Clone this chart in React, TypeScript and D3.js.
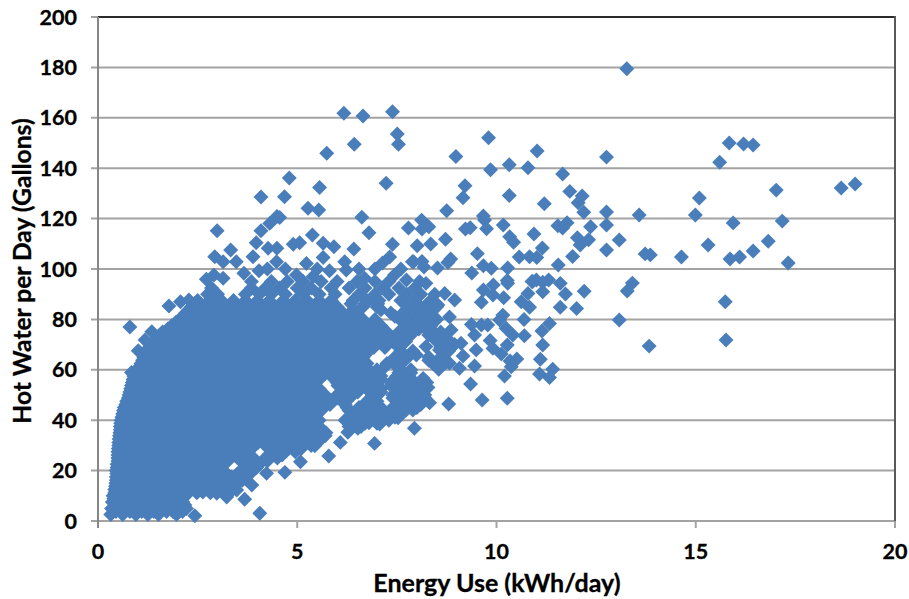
// App.tsx - hot water use vs energy use scatter
import React, { useEffect, useRef } from 'react';
import * as d3 from 'd3';

const xTicks = [0, 5, 10, 15, 20];
const yTicks = [0, 20, 40, 60, 80, 100, 120, 140, 160, 180, 200];

// Points that can be told apart, [kWh/day, gallons]
const upperPoints: number[][] = [
  [13.27, 179.5], [6.17, 161.8], [6.65, 160.7], [7.39, 162.4], [7.51, 153.6], [7.54, 149.5], [6.43, 149.5], [5.74, 145.9],
  [9.8, 152.1], [8.98, 144.6], [11.02, 146.8], [10.32, 141.4], [9.85, 139.4], [10.79, 140.2], [11.66, 137.7], [4.8, 136.1],
  [5.56, 132.3], [7.23, 134], [4.68, 128.7], [4.09, 128.6], [9.21, 133], [9.16, 128.3], [10.32, 129.2], [11.84, 130.8], [12.15, 129],
  [12.05, 126.3], [12.19, 122.5], [11.2, 125.9], [5.27, 124.1], [5.54, 123.4], [4.56, 120.4], [6.62, 120.5], [8.75, 123.1],
  [9.67, 121], [9.7, 119.4], [6.8, 114.4], [7.79, 116.3], [8.12, 119.4], [8.13, 115.9], [8.3, 116.8], [9.22, 115.9], [9.34, 116.4],
  [9.75, 116], [10.17, 117.5], [11.54, 117.2], [11.66, 116.3], [11.77, 118.4], [12.36, 116.8], [10.94, 113.9], [10.33, 112.8],
  [10.43, 110.6], [12.03, 112.4], [12.31, 111.6], [12.1, 109.5], [8.72, 111.8], [7.39, 109.8], [8.01, 109.2], [8.35, 109.9],
  [11.15, 108.3], [9.52, 106.1], [11.91, 105], [10.57, 104.8], [10.83, 104.9], [11.01, 104.6], [7.92, 102.9], [8.13, 103],
  [8.18, 100.8], [8.52, 100.4], [8.78, 102.6], [8.85, 104], [9.67, 101.3], [9.87, 100.3], [10.28, 100.4], [11.55, 101.6],
  [9.38, 98.4], [9.92, 93.7], [10.27, 95.4], [10.89, 95], [11, 95.6], [11.16, 94.7], [11.31, 95.6], [11.6, 94.3], [12.2, 91.2],
  [2.99, 115.2], [4.09, 115.2], [4.31, 118.1], [4.49, 120.8], [2.93, 104.9], [3.33, 107.5], [3.97, 110.4], [4.27, 108.2],
  [4.49, 108.2], [4.9, 109.8], [5.06, 110.4], [5.38, 113.5], [5.65, 110.2], [5.92, 108.8], [6.42, 107.9], [5.65, 104.6],
  [5.23, 102.2], [3.14, 102.9], [3.47, 102.9], [3.89, 104.9], [4.48, 102.9], [6.19, 102.9], [5.81, 99.3], [6.23, 99.6],
  [4.98, 97.6], [5.4, 97], [4.04, 99.3], [3.66, 98.3], [2.72, 95.9], [2.91, 97.6], [3.14, 96.3], [1.78, 85.3], [2.07, 87],
  [2.28, 87.7], [6.69, 96.3], [7.14, 102.4], [7.32, 104.8], [7.89, 102.9], [7.44, 97.6], [7.74, 95.6], [8.07, 95], [8.23, 94.3],
];

const farRightPoints: number[][] = [
  [15.6, 142.4], [15.84, 150], [16.2, 149.6], [16.44, 149.2], [17.02, 131.3], [17.17, 119], [17.32, 102.4], [16.82, 111],
  [16.44, 107.1], [16.1, 104.8], [15.86, 104], [15.94, 118.3], [15.09, 128.2], [14.99, 121.4], [15.31, 109.5], [14.64, 104.8],
  [15.74, 87], [15.76, 71.8], [13.83, 69.4], [13.08, 79.8], [13.28, 91.3], [13.41, 94.4], [13.08, 111.5], [12.76, 107.5],
  [12.76, 117.5], [12.76, 122.6], [13.58, 121.4], [13.73, 106], [13.86, 105.6], [18.65, 132.1], [19, 133.7], [12.76, 144.4],
];

const rightEdgePoints: number[][] = [
  [11.6, 84.8], [12.01, 84.3], [11.73, 90.1], [11.33, 78.4], [11.14, 75.4], [11.16, 69.8], [11.1, 64.2], [11.41, 60.2],
  [11.08, 58.3], [11.33, 56.9], [10.7, 73.5], [10.69, 80], [10.83, 84.8], [10.62, 87], [10.79, 90.3], [10.91, 95], [11.16, 91],
  [9.62, 86.8], [9.67, 91.7], [9.91, 89.7], [10.18, 88.6], [10.28, 94.3], [10.16, 81.7], [10.08, 79.8], [9.78, 77.8],
  [9.62, 77.8], [9.37, 78], [9.45, 73.8], [10.24, 76.5], [10.41, 73.8], [9.84, 71.6], [9.91, 68.5], [9.49, 67.9], [9.11, 70.5],
  [10.27, 69.8], [10.12, 66.3], [10.51, 64.3], [10.34, 63.5], [10.37, 61.2], [10.2, 57.5], [10.27, 48.7], [9.64, 48], [9.35, 54.4],
  [8.8, 46.4], [9.45, 61.5], [9.16, 65.5], [9.07, 60.6], [8.82, 62.6], [8.55, 60.2], [8.16, 56.6], [8.28, 53], [8.32, 46.9],
  [7.94, 36.8], [7.9, 44], [7.53, 41], [7.07, 38.5], [6.8, 39], [6.94, 30.8], [6.52, 36.8], [6.27, 35.2], [6.08, 31.2], [5.79, 25.8],
  [5.08, 23.5], [4.69, 19.3], [5.44, 29.9], [8.82, 81], [8.86, 75.8], [8.57, 67.9], [8.95, 87.7], [8.7, 90.3], [8.53, 85.7],
  [8.23, 69.2], [7.99, 65.9], [4.06, 3.1], [3.68, 8.6], [2.43, 2.1], [4.23, 18.9], [0.8, 77], [1.01, 67.6], [0.84, 58.9],
  [1.35, 75.1], [1.18, 71.8], [3.86, 14.3], [2.63, 11.5], [2.98, 11], [3.23, 9.5], [3.48, 12.3],
];

// Solid part of the cloud, read as rows: [gallons, kWh values along that row]
const cloudLow: [number, number[]][] = [
  [2.6, [0.32, 0.62, 0.95, 1.25, 1.52, 1.97]],
  [3.8, [0.45, 0.8, 1.1, 1.4, 1.72, 1.88, 2.12]],
  [5, [0.34, 0.5, 0.8, 1.1, 1.4, 1.7, 2.0, 2.22]],
  [6.3, [0.42, 0.7, 1.0, 1.3, 1.6, 1.9, 2.18]],
  [7.5, [0.36, 0.65, 0.95, 1.25, 1.55, 1.85, 2.13]],
  [8.8, [0.4, 0.66, 0.98, 1.28, 1.58, 1.88, 2.1]],
  [10, [0.38, 0.5, 0.8, 1.1, 1.4, 1.7, 2.0, 2.2]],
  [11.2, [0.42, 0.68, 0.98, 1.28, 1.58, 1.88, 2.18, 2.48, 2.82, 3.3]],
  [12.5, [0.42, 0.66, 0.95, 1.25, 1.55, 1.85, 2.15, 2.45, 2.75, 3.05, 3.35]],
  [13.8, [0.44, 0.72, 1.02, 1.32, 1.62, 1.92, 2.22, 2.52, 2.82, 3.12, 3.42]],
  [15, [0.45, 0.55, 0.8, 1.1, 1.4, 1.7, 2.0, 2.3, 2.6, 2.9, 3.2, 3.5]],
  [16.2, [0.46, 0.68, 0.96, 1.26, 1.56, 1.86, 2.16, 2.46, 2.76, 3.06, 3.36, 3.62]],
  [17.5, [0.46, 0.7, 0.95, 1.25, 1.55, 1.85, 2.15, 2.45, 2.75, 3.05, 3.35, 3.7]],
  [18.8, [0.47, 0.62, 0.88, 1.12, 1.42, 1.72, 2.02, 2.32, 2.62, 2.92, 3.22, 3.5, 3.82]],
  [20, [0.46, 0.6, 0.85, 1.1, 1.4, 1.7, 2.0, 2.3, 2.6, 2.9, 3.15, 3.6, 3.85]],
  [21.2, [0.48, 0.72, 1.0, 1.3, 1.58, 1.88, 2.18, 2.48, 2.78, 3.08, 3.72, 3.98]],
  [22.5, [0.48, 0.75, 1.0, 1.3, 1.6, 1.9, 2.2, 2.5, 2.8, 3.1, 3.75, 4.05]],
  [23.8, [0.5, 0.62, 0.88, 1.16, 1.46, 1.76, 2.06, 2.36, 2.66, 2.96, 3.26, 3.58, 3.92, 4.25]],
  [25, [0.5, 0.6, 0.9, 1.15, 1.45, 1.75, 2.05, 2.35, 2.65, 2.95, 3.25, 3.55, 3.9, 4.2, 4.5]],
  [26.2, [0.5, 0.74, 1.02, 1.32, 1.62, 1.92, 2.22, 2.52, 2.82, 3.12, 3.42, 3.72, 4.38, 4.62]],
  [27.5, [0.5, 0.75, 1.0, 1.3, 1.6, 1.9, 2.2, 2.5, 2.8, 3.1, 3.4, 3.72, 4.4, 4.7, 4.95]],
  [28.8, [0.51, 0.64, 0.9, 1.16, 1.46, 1.76, 2.06, 2.36, 2.66, 2.96, 3.26, 3.56, 3.86, 4.45, 4.78, 5.1]],
  [30, [0.52, 0.62, 0.9, 1.15, 1.45, 1.75, 2.05, 2.35, 2.65, 2.95, 3.25, 3.55, 3.85, 4.2, 4.5, 4.8, 5.1, 5.35]],
  [31.2, [0.52, 0.76, 1.02, 1.32, 1.62, 1.92, 2.22, 2.52, 2.82, 3.12, 3.42, 3.72, 4.02, 4.32, 4.66, 4.96, 5.26, 5.5]],
  [32.5, [0.53, 0.78, 1.0, 1.3, 1.6, 1.9, 2.2, 2.5, 2.8, 3.1, 3.4, 3.7, 4.0, 4.3, 4.65, 4.95, 5.25, 5.6]],
  [33.8, [0.54, 0.66, 0.9, 1.16, 1.46, 1.76, 2.06, 2.36, 2.66, 2.96, 3.26, 3.56, 3.86, 4.16, 4.48, 4.8, 5.1, 5.42, 5.7]],
  [35, [0.55, 0.65, 0.9, 1.15, 1.45, 1.75, 2.05, 2.35, 2.65, 2.95, 3.25, 3.55, 3.85, 4.15, 4.5, 4.8, 5.1, 5.4, 5.72]],
  [36.2, [0.56, 0.8, 1.02, 1.32, 1.62, 1.92, 2.22, 2.52, 2.82, 3.12, 3.42, 3.72, 4.02, 4.32, 4.66, 4.96, 5.26, 5.56]],
];

const cloudMid: [number, number[]][] = [
  [37.5, [0.56, 0.8, 1.0, 1.3, 1.6, 1.9, 2.2, 2.5, 2.8, 3.1, 3.4, 3.7, 4.0, 4.3, 4.65, 4.95, 5.25, 5.55, 6.3, 6.6]],
  [38.8, [0.57, 0.7, 0.92, 1.16, 1.46, 1.76, 2.06, 2.36, 2.66, 2.96, 3.26, 3.56, 3.86, 4.16, 4.48, 4.8, 5.1, 5.4, 6.4, 6.7, 7.0]],
  [40, [0.58, 0.7, 0.9, 1.15, 1.45, 1.75, 2.05, 2.35, 2.65, 2.95, 3.25, 3.55, 3.85, 4.15, 4.5, 4.8, 5.1, 5.55, 6.2, 6.45, 6.75, 7.05, 7.3]],
  [41.2, [0.6, 0.82, 1.04, 1.32, 1.62, 1.92, 2.22, 2.52, 2.82, 3.12, 3.42, 3.72, 4.02, 4.32, 4.66, 4.96, 5.26, 6.3, 6.6, 6.9, 7.2, 7.45]],
  [42.5, [0.62, 0.85, 1.05, 1.3, 1.6, 1.9, 2.2, 2.5, 2.8, 3.1, 3.4, 3.7, 4.0, 4.3, 4.65, 4.95, 5.25, 5.5, 6.45, 6.7, 7.0, 7.25, 7.55]],
  [43.8, [0.64, 0.76, 0.96, 1.18, 1.46, 1.76, 2.06, 2.36, 2.66, 2.96, 3.26, 3.56, 3.86, 4.16, 4.48, 4.8, 5.1, 5.4, 5.6, 6.3, 6.58, 6.88, 7.15, 7.4, 7.72]],
  [45, [0.66, 0.75, 0.95, 1.2, 1.45, 1.75, 2.05, 2.35, 2.65, 2.95, 3.25, 3.55, 3.85, 4.15, 4.5, 4.8, 5.1, 5.4, 5.65, 6.25, 6.55, 6.85, 7.1, 7.4, 7.7, 8.0]],
  [46.2, [0.7, 0.88, 1.08, 1.32, 1.62, 1.92, 2.22, 2.52, 2.82, 3.12, 3.42, 3.72, 4.02, 4.32, 4.66, 4.96, 5.26, 5.56, 5.82, 6.2, 6.7, 7.0, 7.55, 7.85, 8.1]],
  [47.5, [0.72, 0.9, 1.1, 1.3, 1.6, 1.9, 2.2, 2.5, 2.8, 3.1, 3.4, 3.7, 4.0, 4.3, 4.65, 4.95, 5.25, 5.55, 5.85, 6.2, 6.75, 7.0, 7.55, 7.85, 8.1]],
  [48.8, [0.76, 0.84, 1.02, 1.2, 1.46, 1.76, 2.06, 2.36, 2.66, 2.96, 3.26, 3.56, 3.86, 4.16, 4.48, 4.8, 5.1, 5.4, 5.7, 6.0, 6.32, 6.85, 7.4, 7.7, 7.98, 8.2]],
  [50, [0.78, 0.85, 1.05, 1.2, 1.45, 1.75, 2.05, 2.35, 2.65, 2.95, 3.25, 3.55, 3.85, 4.15, 4.5, 4.8, 5.1, 5.4, 5.7, 6.0, 6.35, 6.9, 7.4, 7.7, 8.0, 8.2]],
  [51.2, [0.8, 0.98, 1.14, 1.34, 1.62, 1.92, 2.22, 2.52, 2.82, 3.12, 3.42, 3.72, 4.02, 4.32, 4.66, 4.96, 5.26, 5.56, 6.18, 6.52, 6.82, 7.1, 7.55, 7.85, 8.15]],
  [52.5, [0.82, 1.0, 1.15, 1.35, 1.6, 1.9, 2.2, 2.5, 2.8, 3.1, 3.4, 3.7, 4.0, 4.3, 4.65, 4.95, 5.25, 5.55, 6.2, 6.5, 6.8, 7.1, 7.55, 7.85, 8.15]],
  [53.8, [0.84, 0.94, 1.1, 1.28, 1.46, 1.76, 2.06, 2.36, 2.66, 2.96, 3.26, 3.56, 3.86, 4.16, 4.48, 4.8, 5.1, 5.4, 6.02, 6.32, 6.66, 6.96, 7.35, 7.65, 7.95]],
  [55, [0.86, 0.95, 1.1, 1.3, 1.45, 1.75, 2.05, 2.35, 2.65, 2.95, 3.25, 3.55, 3.85, 4.15, 4.5, 4.8, 5.1, 5.4, 6.0, 6.3, 6.65, 6.95, 7.35, 7.65, 7.95, 8.25]],
  [56.2, [0.88, 1.04, 1.2, 1.4, 1.62, 1.92, 2.22, 2.52, 2.82, 3.12, 3.42, 3.72, 4.02, 4.32, 4.66, 4.96, 5.26, 5.56, 6.12, 6.48, 6.8, 7.1, 7.5, 7.8]],
  [57.5, [0.9, 1.05, 1.2, 1.4, 1.6, 1.9, 2.2, 2.5, 2.8, 3.1, 3.4, 3.7, 4.0, 4.3, 4.65, 4.95, 5.25, 5.55, 5.85, 6.15, 6.5, 6.8, 7.1, 7.5, 7.8]],
  [58.8, [0.95, 1.08, 1.26, 1.46, 1.76, 2.06, 2.36, 2.66, 2.96, 3.26, 3.56, 3.86, 4.16, 4.48, 4.8, 5.1, 5.4, 5.7, 6.0, 6.32, 6.62, 6.95, 7.55, 7.85]],
  [60, [1.0, 1.1, 1.3, 1.5, 1.75, 2.05, 2.35, 2.65, 2.95, 3.25, 3.55, 3.85, 4.15, 4.5, 4.8, 5.1, 5.4, 5.7, 6.0, 6.35, 6.6, 7.0, 7.6, 7.85]],
];

const cloudHigh: [number, number[]][] = [
  [61.2, [1.04, 1.2, 1.4, 1.6, 1.92, 2.22, 2.52, 2.82, 3.12, 3.42, 3.72, 4.02, 4.32, 4.66, 4.96, 5.26, 5.56, 5.86, 6.16, 6.48, 6.72, 7.2, 7.5]],
  [62.5, [1.08, 1.25, 1.45, 1.6, 1.9, 2.2, 2.5, 2.8, 3.1, 3.4, 3.7, 4.0, 4.3, 4.65, 4.95, 5.25, 5.55, 5.85, 6.15, 6.5, 6.75, 7.25, 7.5, 8.4, 8.7]],
  [63.8, [1.12, 1.3, 1.5, 1.76, 2.06, 2.36, 2.66, 2.96, 3.26, 3.56, 3.86, 4.16, 4.48, 4.8, 5.1, 5.4, 5.7, 6.0, 6.32, 6.62, 7.4, 7.7, 8.3, 8.55]],
  [65, [1.15, 1.35, 1.55, 1.75, 2.05, 2.35, 2.65, 2.95, 3.25, 3.55, 3.85, 4.15, 4.5, 4.8, 5.1, 5.4, 5.7, 6.0, 6.35, 6.65, 7.45, 7.75, 8.3, 8.6]],
  [66.2, [1.2, 1.42, 1.62, 1.92, 2.22, 2.52, 2.82, 3.12, 3.42, 3.72, 4.02, 4.32, 4.66, 4.96, 5.26, 5.56, 5.86, 6.16, 6.48, 6.72, 7.55, 7.85, 8.7]],
  [67.5, [1.25, 1.45, 1.65, 1.9, 2.2, 2.5, 2.8, 3.1, 3.4, 3.7, 4.0, 4.3, 4.65, 4.95, 5.25, 5.55, 5.85, 6.15, 6.5, 6.75, 7.6, 7.9, 8.8]],
  [68.8, [1.28, 1.5, 1.72, 2.06, 2.36, 2.66, 2.96, 3.26, 3.56, 3.86, 4.16, 4.48, 4.8, 5.1, 5.4, 5.7, 6.0, 6.32, 6.62, 6.92, 7.2, 7.55, 8.6, 8.85]],
  [70, [1.32, 1.55, 1.75, 2.05, 2.35, 2.65, 2.95, 3.25, 3.55, 3.85, 4.15, 4.5, 4.8, 5.1, 5.4, 5.7, 6.0, 6.35, 6.65, 6.95, 7.25, 7.55, 8.6, 8.95]],
  [71.2, [1.42, 1.64, 1.88, 2.22, 2.52, 2.82, 3.12, 3.42, 3.72, 4.02, 4.32, 4.66, 4.96, 5.26, 5.56, 5.86, 6.16, 6.48, 6.8, 7.1, 7.4, 7.72, 8.5, 8.8]],
  [72.5, [1.5, 1.7, 1.9, 2.2, 2.5, 2.8, 3.1, 3.4, 3.7, 4.0, 4.3, 4.65, 4.95, 5.25, 5.55, 5.85, 6.15, 6.5, 6.8, 7.1, 7.4, 7.75, 8.45, 8.75]],
  [73.8, [1.56, 1.78, 2.06, 2.36, 2.66, 2.96, 3.26, 3.56, 3.86, 4.16, 4.48, 4.8, 5.1, 5.4, 5.7, 6.0, 6.32, 6.62, 6.92, 7.22, 7.52, 7.85, 8.3, 8.6]],
  [75, [1.62, 1.8, 2.05, 2.35, 2.65, 2.95, 3.25, 3.55, 3.85, 4.15, 4.5, 4.8, 5.1, 5.4, 5.7, 6.0, 6.35, 6.65, 6.95, 7.25, 7.55, 7.85, 8.3, 8.6]],
  [76.2, [1.75, 1.98, 2.22, 2.52, 2.82, 3.12, 3.42, 3.72, 4.02, 4.32, 4.66, 4.96, 5.26, 5.56, 5.86, 6.16, 6.48, 6.8, 7.1, 7.75, 8.05, 8.35]],
  [77.5, [1.85, 2.2, 2.5, 2.8, 3.1, 3.4, 3.7, 4.0, 4.3, 4.65, 4.95, 5.25, 5.55, 5.85, 6.15, 6.5, 6.8, 7.1, 7.75, 8.05, 8.35]],
  [78.8, [1.95, 2.2, 2.36, 2.66, 2.96, 3.26, 3.56, 3.86, 4.16, 4.48, 4.8, 5.1, 5.4, 5.7, 6.0, 6.32, 6.62, 6.92, 7.65, 7.95, 8.25]],
  [80, [2.05, 2.35, 2.65, 2.95, 3.25, 3.55, 3.85, 4.15, 4.5, 4.8, 5.1, 5.4, 5.7, 6.0, 6.35, 6.65, 6.95, 7.6, 7.9, 8.2, 8.5]],
  [81.2, [2.12, 2.38, 2.62, 2.82, 3.12, 3.42, 3.72, 4.02, 4.32, 4.66, 4.96, 5.26, 5.56, 5.86, 6.16, 6.5, 7.45, 7.75, 8.12, 8.42]],
  [82.5, [2.2, 2.5, 2.8, 3.1, 3.4, 3.7, 4.0, 4.3, 4.65, 4.95, 5.25, 5.55, 5.85, 6.15, 6.5, 7.35, 7.65, 8.05, 8.35]],
  [83.8, [2.28, 2.55, 2.96, 3.26, 3.56, 3.86, 4.16, 4.48, 4.8, 5.1, 5.4, 5.7, 6.0, 6.4, 7.1, 7.75, 8.1, 8.42]],
  [85, [2.35, 2.65, 2.95, 3.25, 3.55, 3.85, 4.15, 4.5, 4.8, 5.1, 5.4, 5.7, 6.0, 6.65, 7.0, 7.85, 8.2, 8.5]],
  [86.2, [2.42, 2.72, 3.12, 3.42, 3.72, 4.02, 4.32, 4.66, 4.96, 5.26, 5.56, 5.86, 6.35, 6.7, 7.02, 7.7, 8.02, 8.4]],
  [87.5, [2.5, 2.8, 3.1, 3.4, 3.7, 4.0, 4.3, 4.65, 4.95, 5.25, 5.55, 5.85, 6.4, 6.75, 7.05, 7.6, 7.95, 8.35]],
  [90, [2.75, 3.0, 3.7, 4.05, 4.35, 4.7, 5.15, 5.55, 5.95, 6.55, 6.95, 7.3, 7.75, 8.1, 8.45]],
  [92.5, [2.85, 3.85, 4.2, 4.55, 5.0, 5.35, 5.85, 6.3, 6.7, 7.15, 7.55, 7.95]],
  [95, [3.85, 4.35, 4.75, 5.15, 5.6, 6.0, 6.5, 6.95, 7.3]],
  [100, [4.25, 4.7, 5.5, 6.55, 6.95, 7.6]],
];

const cloudPoints = [...cloudLow, ...cloudMid, ...cloudHigh].flatMap(([gallons, kwh]) => kwh.map((k) => [k, gallons]));
const allPoints = [...cloudPoints, ...rightEdgePoints, ...upperPoints, ...farRightPoints];

const width = 909;
const height = 599;
const font = 'Lato, Carlito, sans-serif';

const App = () => {
  const ref = useRef<SVGSVGElement>(null);

  useEffect(() => {
    const svg = d3.select(ref.current);
    svg.selectAll('*').remove();

    const x = d3.scaleLinear().domain([0, 20]).range([98, 895]);
    const y = d3.scaleLinear().domain([0, 200]).range([521, 17]);

    // gridlines with their outward tick
    svg
      .append('g')
      .selectAll('line')
      .data(yTicks)
      .enter()
      .append('line')
      .attr('x1', 91)
      .attr('x2', 895)
      .attr('y1', (d) => y(d))
      .attr('y2', (d) => y(d))
      .attr('stroke', '#a3a3a3')
      .attr('stroke-width', 2);

    // frame
    svg.append('line').attr('x1', 98).attr('x2', 896).attr('y1', 17).attr('y2', 17).attr('stroke', '#2b2b2b').attr('stroke-width', 2);
    svg.append('line').attr('x1', 895).attr('x2', 895).attr('y1', 16).attr('y2', 521).attr('stroke', '#595959').attr('stroke-width', 2);

    // x ticks and y axis
    svg
      .append('g')
      .selectAll('line')
      .data(xTicks)
      .enter()
      .append('line')
      .attr('x1', (d) => x(d))
      .attr('x2', (d) => x(d))
      .attr('y1', 521)
      .attr('y2', 528)
      .attr('stroke', '#a3a3a3')
      .attr('stroke-width', 2);
    svg.append('line').attr('x1', 98).attr('x2', 98).attr('y1', 17).attr('y2', 528).attr('stroke', '#868686').attr('stroke-width', 2);

    // diamonds
    const diamond = d3.symbol().type(d3.symbolSquare).size(112);
    svg
      .append('g')
      .selectAll('path')
      .data(allPoints)
      .enter()
      .append('path')
      .attr('d', diamond)
      .attr('transform', (d) => `translate(${x(d[0])},${y(d[1])}) rotate(45)`)
      .attr('fill', '#4a7ebb');

    // tick labels
    svg
      .append('g')
      .selectAll('text')
      .data(yTicks)
      .enter()
      .append('text')
      .attr('x', 77)
      .attr('y', (d) => y(d))
      .attr('dy', '0.35em')
      .attr('text-anchor', 'end')
      .attr('font-family', font)
      .attr('font-weight', 700)
      .attr('font-size', 21.5)
      .attr('stroke', '#000')
      .attr('stroke-width', 0.3)
      .text((d) => d);
    svg
      .append('g')
      .selectAll('text')
      .data(xTicks)
      .enter()
      .append('text')
      .attr('x', (d) => x(d))
      .attr('y', 551)
      .attr('dy', '0.35em')
      .attr('text-anchor', 'middle')
      .attr('font-family', font)
      .attr('font-weight', 700)
      .attr('font-size', 21.5)
      .attr('stroke', '#000')
      .attr('stroke-width', 0.3)
      .text((d) => d);

    // axis titles
    svg
      .append('text')
      .attr('x', 497)
      .attr('y', 592)
      .attr('text-anchor', 'middle')
      .attr('font-family', font)
      .attr('font-weight', 700)
      .attr('font-size', 25)
      .attr('stroke', '#000')
      .attr('stroke-width', 0.3)
      .text('Energy Use (kWh/day)');
    svg
      .append('text')
      .attr('transform', 'translate(31,271) rotate(-90)')
      .attr('text-anchor', 'middle')
      .attr('font-family', font)
      .attr('font-weight', 700)
      .attr('font-size', 24.6)
      .attr('stroke', '#000')
      .attr('stroke-width', 0.3)
      .text('Hot Water per Day (Gallons)');
  }, []);

  return <svg ref={ref} width={width} height={height} style={{ position: 'absolute', left: 0, top: 0, background: '#fff' }} />;
};

export default App;
